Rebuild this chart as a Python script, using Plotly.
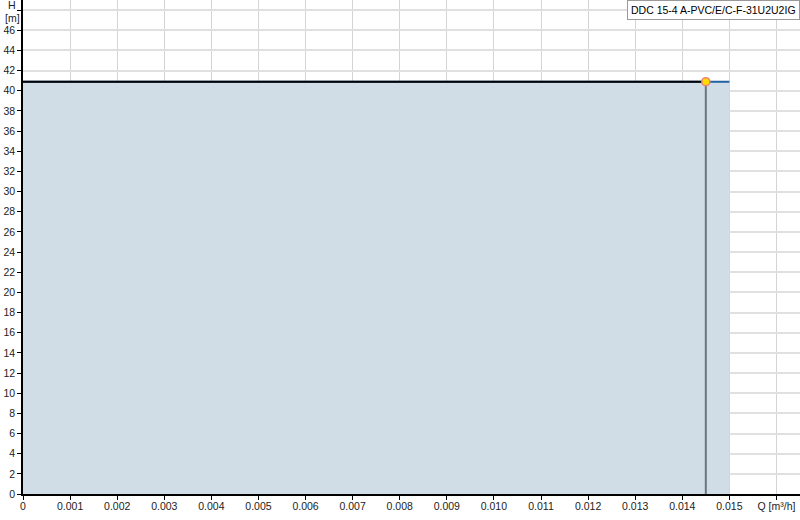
import plotly.graph_objects as go

# Data
curve_q = [0.0, 0.015]
curve_h = [40.9, 40.9]
op_q = [0.0145]
op_h = [40.9]
duty_q = [0.0, 0.0145]
duty_h = [40.9, 40.9]
pump_name = "DDC 15-4 A-PVC/E/C-F-31U2U2IG"

x_ticks = [i * 0.001 for i in range(17)]
x_labels = ["0"] + ["%.3f" % v for v in x_ticks[1:16]] + ["Q [m³/h]"]
y_ticks = list(range(0, 49, 2))
y_labels = [str(v) for v in y_ticks[:-1]] + [""]
y_title_lines = ["H", "[m]"]

FONT = "Liberation Sans, Arial, sans-serif"

fig = go.Figure()
# filled area under curve
fig.add_trace(go.Scatter(x=curve_q, y=curve_h, mode="lines", fill="tozeroy",
                         fillcolor="rgb(208,220,230)",
                         line=dict(color="#1f5f9f", width=2), showlegend=False,
                         hoverinfo="skip"))
# black line up to duty point
fig.add_trace(go.Scatter(x=duty_q, y=duty_h, mode="lines",
                         line=dict(color="#000000", width=2), showlegend=False))
# vertical drop line
fig.add_trace(go.Scatter(x=[op_q[0], op_q[0]], y=[0, op_h[0]], mode="lines",
                         line=dict(color="#6b7580", width=2), showlegend=False))
# operating point
fig.add_trace(go.Scatter(x=op_q, y=op_h, mode="markers",
                         marker=dict(size=8, color="#ffdd00",
                                     line=dict(color="#f08070", width=1.5)),
                         showlegend=False))

fig.add_annotation(xref="paper", yref="paper", x=1, y=1, xanchor="right", yanchor="top",
                   text=pump_name, showarrow=False,
                   font=dict(family=FONT, size=10.5, color="#000"),
                   bgcolor="white", bordercolor="#999999", borderwidth=1, borderpad=3)

# y-axis unit label at the top tick
for txt, shift in zip(y_title_lines, [-5, -18]):
    fig.add_annotation(xref="paper", yref="paper", x=0, y=1, xanchor="center",
                       yanchor="middle", xshift=-11, yshift=shift, text=txt,
                       showarrow=False, font=dict(family=FONT, size=10.5, color="#222"))

fig.update_layout(
    width=800, height=520,
    margin=dict(l=23, r=0, t=0, b=26, autoexpand=False),
    plot_bgcolor="white", paper_bgcolor="white",
    font=dict(family=FONT, size=10.5, color="#222"),
    xaxis=dict(range=[0, 0.0165], tickvals=x_ticks, ticktext=x_labels,
               showgrid=True, gridcolor="#d4d4d4", gridwidth=1,
               showline=True, linecolor="black", linewidth=1.5,
               ticks="outside", ticklen=4, tickcolor="black", zeroline=False,
               automargin=False, ticklabeloverflow="allow", ticklabelstandoff=-2),
    yaxis=dict(range=[0, 49], tickvals=y_ticks, ticktext=y_labels,
               showgrid=True, gridcolor="#e0e0e0", gridwidth=2,
               showline=True, linecolor="black", linewidth=1.5,
               ticks="outside", ticklen=4, tickcolor="black", zeroline=False,
               automargin=False, ticklabeloverflow="allow"),
)

fig.write_html("out.html", config={"displayModeBar": False},
               post_script="document.body.style.margin='0';document.body.style.overflow='hidden';")
